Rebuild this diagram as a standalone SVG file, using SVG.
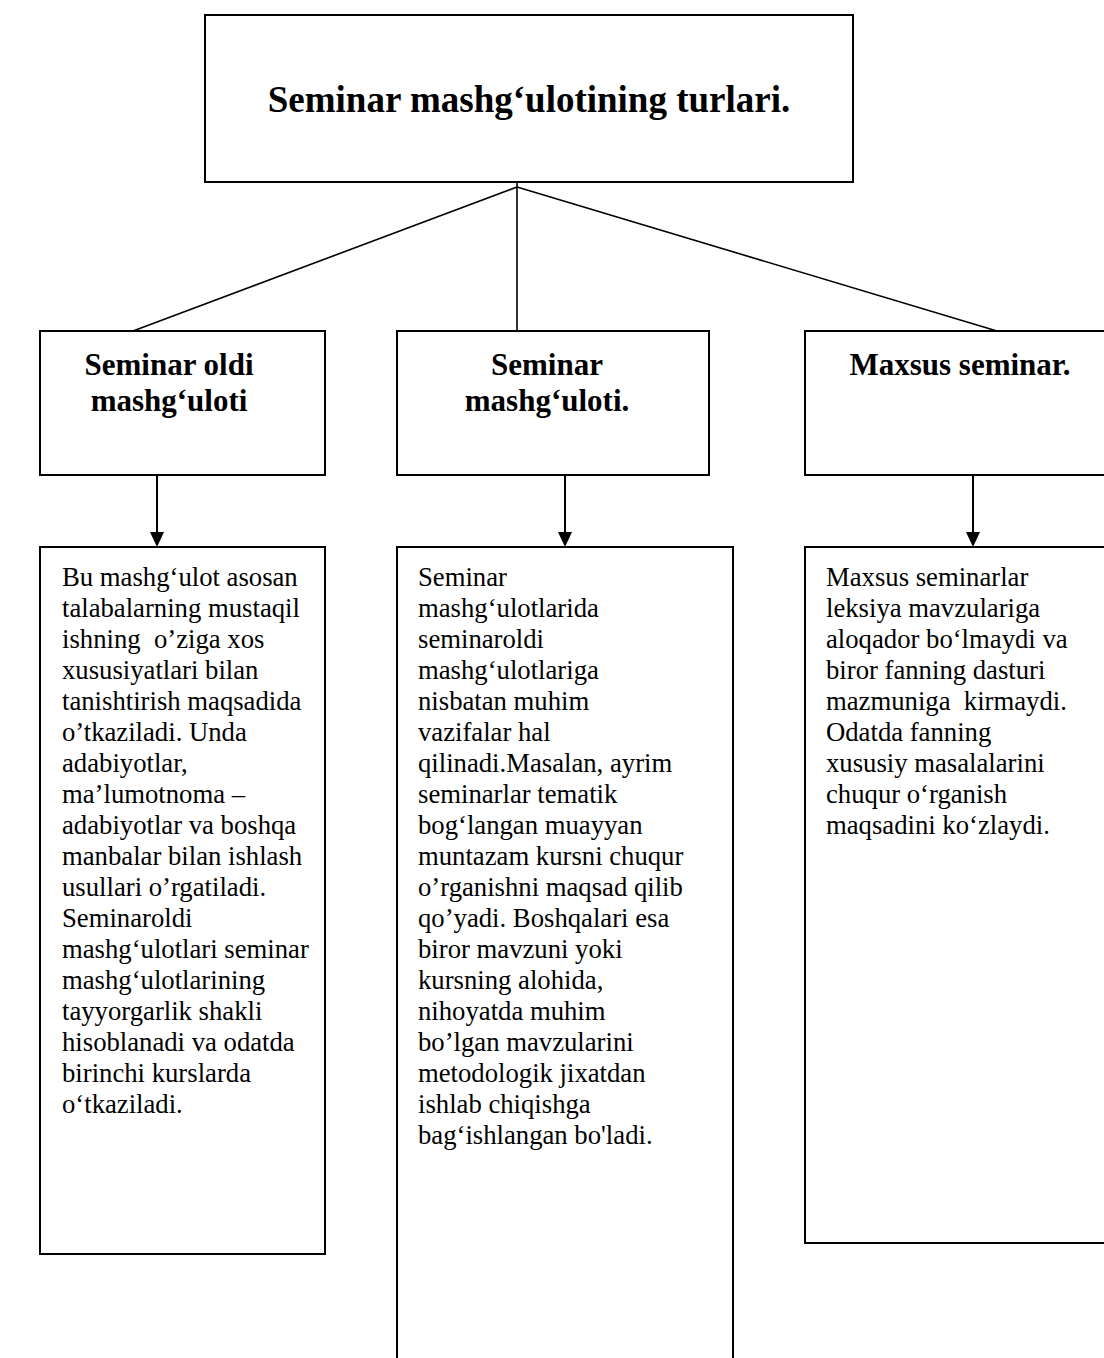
<svg xmlns="http://www.w3.org/2000/svg" width="1104" height="1358" viewBox="0 0 1104 1358">
<defs>
<marker id="ah" viewBox="0 0 14 15" refX="7" refY="15" markerWidth="14" markerHeight="15" markerUnits="userSpaceOnUse" orient="auto-start-reverse">
<path d="M0,0 L14,0 L7,15 Z" fill="#000"/>
</marker>
</defs>
<style>
rect{fill:#fff;stroke:#000;stroke-width:2}
.c line{stroke:#000;stroke-width:1.6;fill:none}
.c .arr{stroke-width:2}
text{font-family:"Liberation Serif","Times New Roman",serif;fill:#000;white-space:pre}
.t{font-size:37px;font-weight:bold;text-anchor:middle}
.h{font-size:31px;font-weight:bold;text-anchor:middle}
.b{font-size:26.7px}
</style>
<rect x="0" y="0" width="1104" height="1358" style="fill:#fff;stroke:none"/>
<g class="c" id="connectors">
<line x1="517" y1="182" x2="517" y2="331"/>
<line x1="517" y1="187" x2="133" y2="331"/>
<line x1="517" y1="187" x2="997" y2="331"/>
<line class="arr" x1="157" y1="475" x2="157" y2="533"/>
<path d="M150,532 L164,532 L157,547 Z"/>
<line class="arr" x1="565" y1="475" x2="565" y2="533"/>
<path d="M558,532 L572,532 L565,547 Z"/>
<line class="arr" x1="973" y1="475" x2="973" y2="533"/>
<path d="M966,532 L980,532 L973,547 Z"/>
</g>
<g id="title">
<rect x="205" y="15" width="648" height="167"/>
<text class="t" x="529" y="112">Seminar mashg‘ulotining turlari.</text>
</g>
<g id="h1">
<rect x="40" y="331" width="285" height="144"/>
<text class="h" x="169" y="375">Seminar oldi</text>
<text class="h" x="169" y="411">mashg‘uloti</text>
</g>
<g id="h2">
<rect x="397" y="331" width="312" height="144"/>
<text class="h" x="547" y="375">Seminar</text>
<text class="h" x="547" y="411">mashg‘uloti.</text>
</g>
<g id="h3">
<rect x="805" y="331" width="310" height="144"/>
<text class="h" x="960" y="375">Maxsus seminar.</text>
</g>
<g id="b1">
<rect x="40" y="547" width="285" height="707"/>
<text class="b" x="62" y="586">Bu mashg‘ulot asosan</text>
<text class="b" x="62" y="617">talabalarning mustaqil</text>
<text class="b" x="62" y="648">ishning  o’ziga xos</text>
<text class="b" x="62" y="679">xususiyatlari bilan</text>
<text class="b" x="62" y="710">tanishtirish maqsadida</text>
<text class="b" x="62" y="741">o’tkaziladi. Unda</text>
<text class="b" x="62" y="772">adabiyotlar,</text>
<text class="b" x="62" y="803">ma’lumotnoma –</text>
<text class="b" x="62" y="834">adabiyotlar va boshqa</text>
<text class="b" x="62" y="865">manbalar bilan ishlash</text>
<text class="b" x="62" y="896">usullari o’rgatiladi.</text>
<text class="b" x="62" y="927">Seminaroldi</text>
<text class="b" x="62" y="958">mashg‘ulotlari seminar</text>
<text class="b" x="62" y="989">mashg‘ulotlarining</text>
<text class="b" x="62" y="1020">tayyorgarlik shakli</text>
<text class="b" x="62" y="1051">hisoblanadi va odatda</text>
<text class="b" x="62" y="1082">birinchi kurslarda</text>
<text class="b" x="62" y="1113">o‘tkaziladi.</text>
</g>
<g id="b2">
<rect x="397" y="547" width="336" height="830"/>
<text class="b" x="418" y="586">Seminar</text>
<text class="b" x="418" y="617">mashg‘ulotlarida</text>
<text class="b" x="418" y="648">seminaroldi</text>
<text class="b" x="418" y="679">mashg‘ulotlariga</text>
<text class="b" x="418" y="710">nisbatan muhim</text>
<text class="b" x="418" y="741">vazifalar hal</text>
<text class="b" x="418" y="772">qilinadi.Masalan, ayrim</text>
<text class="b" x="418" y="803">seminarlar tematik</text>
<text class="b" x="418" y="834">bog‘langan muayyan</text>
<text class="b" x="418" y="865">muntazam kursni chuqur</text>
<text class="b" x="418" y="896">o’rganishni maqsad qilib</text>
<text class="b" x="418" y="927">qo’yadi. Boshqalari esa</text>
<text class="b" x="418" y="958">biror mavzuni yoki</text>
<text class="b" x="418" y="989">kursning alohida,</text>
<text class="b" x="418" y="1020">nihoyatda muhim</text>
<text class="b" x="418" y="1051">bo’lgan mavzularini</text>
<text class="b" x="418" y="1082">metodologik jixatdan</text>
<text class="b" x="418" y="1113">ishlab chiqishga</text>
<text class="b" x="418" y="1144">bag‘ishlangan bo'ladi.</text>
</g>
<g id="b3">
<rect x="805" y="547" width="310" height="696"/>
<text class="b" x="826" y="586">Maxsus seminarlar</text>
<text class="b" x="826" y="617">leksiya mavzulariga</text>
<text class="b" x="826" y="648">aloqador bo‘lmaydi va</text>
<text class="b" x="826" y="679">biror fanning dasturi</text>
<text class="b" x="826" y="710">mazmuniga  kirmaydi.</text>
<text class="b" x="826" y="741">Odatda fanning</text>
<text class="b" x="826" y="772">xususiy masalalarini</text>
<text class="b" x="826" y="803">chuqur o‘rganish</text>
<text class="b" x="826" y="834">maqsadini ko‘zlaydi.</text>
</g>
</svg>
